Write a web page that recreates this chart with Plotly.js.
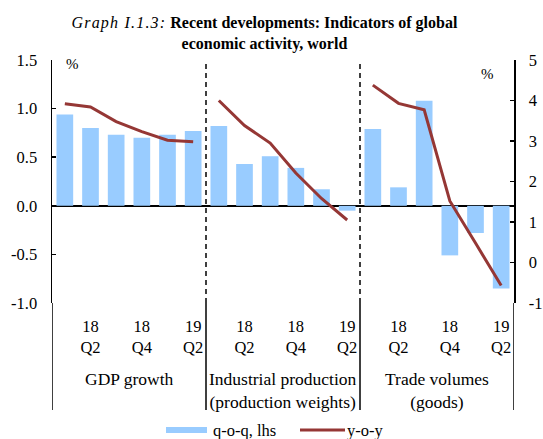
<!DOCTYPE html>
<html>
<head>
<meta charset="utf-8">
<script src="https://cdn.plot.ly/plotly-3.0.1.min.js"></script>
<style>html,body{margin:0;padding:0;background:#fff;}#chart{width:543px;height:439px;}</style>
</head>
<body>
<div id="chart"></div>
<script>
// Quarters within each group (2018Q1 .. 2019Q2)
const quarters = ['2018Q1', '2018Q2', '2018Q3', '2018Q4', '2019Q1', '2019Q2'];
const quarterTickText = ['', '18<br>Q2', '', '18<br>Q4', '', '19<br>Q2'];
const groupNames = ['GDP growth', 'Industrial production<br>(production weights)', 'Trade volumes<br>(goods)'];
const seriesNames = ['q-o-q, lhs', 'y-o-y'];

// axis tick values and labels
const leftTicks = [-1.0, -0.5, 0.0, 0.5, 1.0, 1.5];
const leftTickText = ['-1.0', '-0.5', '0.0', '0.5', '1.0', '1.5'];
const rightTicks = [-1, 0, 1, 2, 3, 4, 5];
const rightTickText = ['-1', '0', '1', '2', '3', '4', '5'];

// q-o-q, % (left axis)
const gdpQoq = [0.94, 0.80, 0.73, 0.70, 0.73, 0.77];
const ipQoq = [0.82, 0.43, 0.51, 0.39, 0.17, -0.05];
const tradeQoq = [0.79, 0.19, 1.08, -0.51, -0.28, -0.85];

// y-o-y, % (right axis)
const gdpYoy = [3.92, 3.84, 3.48, 3.23, 3.02, 2.98];
const ipYoy = [4.00, 3.38, 2.95, 2.21, 1.58, 1.05];
const tradeYoy = [4.38, 3.93, 3.77, 1.52, 0.48, -0.57];

const qoqSeries = [gdpQoq, ipQoq, tradeQoq];
const yoySeries = [gdpYoy, ipYoy, tradeYoy];

const nQ = quarters.length;
const FONT = 'Liberation Serif, Times New Roman, serif';
const BAR_COLOR = '#99CCFF';
const LINE_COLOR = '#953735';

// category positions: group g, quarter i -> g*nQ + i
const posOf = (g) => quarters.map((q, i) => g * nQ + i);

const traces = [];
traces.push({
  type: 'bar',
  name: seriesNames[0],
  x: qoqSeries.flatMap((s, g) => posOf(g)),
  y: qoqSeries.flat(),
  marker: {color: BAR_COLOR},
  width: 0.65,
  yaxis: 'y',
  hoverinfo: 'skip',
  showlegend: false
});
yoySeries.forEach((s, g) => {
  traces.push({
    type: 'scatter',
    mode: 'lines',
    name: seriesNames[1],
    x: posOf(g),
    y: s,
    yaxis: 'y2',
    line: {color: LINE_COLOR, width: 3},
    showlegend: false,
    hoverinfo: 'skip'
  });
});

const tickvals = [];
const ticktext = [];
groupNames.forEach((gname, g) => {
  quarterTickText.forEach((t, i) => {
    if (t) { tickvals.push(g * nQ + i); ticktext.push(t); }
  });
});

const nTot = groupNames.length * nQ;
const shapes = [];
// dashed separators inside plot
for (let g = 1; g < groupNames.length; g++) {
  shapes.push({type: 'line', xref: 'x', yref: 'paper', x0: g * nQ - 0.5, x1: g * nQ - 0.5, y0: 0, y1: 1,
    line: {color: '#000', width: 1.5, dash: '5px,4px'}});
}
// solid separators below plot
for (let g = 0; g <= groupNames.length; g++) {
  shapes.push({type: 'line', xref: 'x', yref: 'paper', x0: g * nQ - 0.5, x1: g * nQ - 0.5, y0: -0.44, y1: 0,
    line: {color: '#000', width: 1.5}});
}
// custom legend swatches (paper coordinates; plot area 52..514 x, 60..303 y)
const px = (xPix) => (xPix - 52) / 462;
const py = (yPix) => (303 - yPix) / 243;
shapes.push({type: 'rect', xref: 'paper', yref: 'paper', x0: px(166), x1: px(207), y0: py(433), y1: py(427),
  fillcolor: BAR_COLOR, line: {width: 0}});
shapes.push({type: 'line', xref: 'paper', yref: 'paper', x0: px(300), x1: px(345), y0: py(430), y1: py(430),
  line: {color: LINE_COLOR, width: 3}});

const annotations = [];
groupNames.forEach((gname, g) => {
  annotations.push({xref: 'x', yref: 'paper', x: g * nQ + (nQ - 1) / 2, y: py(367),
    yanchor: 'top', text: gname, showarrow: false, font: {family: FONT, size: 17.5, color: '#000'}});
});
annotations.push({xref: 'paper', yref: 'paper', x: px(64), y: py(54), xanchor: 'left', yanchor: 'top',
  text: '%', showarrow: false, font: {family: FONT, size: 15, color: '#000'}});
annotations.push({xref: 'paper', yref: 'paper', x: px(496), y: py(64), xanchor: 'right', yanchor: 'top',
  text: '%', showarrow: false, font: {family: FONT, size: 15, color: '#000'}});
annotations.push({xref: 'paper', yref: 'paper', x: px(211), y: py(430), xanchor: 'left', yanchor: 'middle',
  text: seriesNames[0], showarrow: false, font: {family: FONT, size: 16.5, color: '#000'}});
annotations.push({xref: 'paper', yref: 'paper', x: px(345), y: py(430), xanchor: 'left', yanchor: 'middle',
  text: seriesNames[1], showarrow: false, font: {family: FONT, size: 16.5, color: '#000'}});

const layout = {
  width: 543, height: 439,
  margin: {l: 52, r: 29, t: 60, b: 136},
  paper_bgcolor: '#fff', plot_bgcolor: '#fff',
  font: {family: FONT, size: 16, color: '#000'},
  title: {
    text: '<span style="letter-spacing:1.2px"><i>Graph I.1.3:</i></span> <b>Recent developments: Indicators of global<br>economic activity, world</b>',
    font: {family: FONT, size: 16, color: '#000'},
    x: 0.487, xref: 'container', xanchor: 'center',
    y: 0.936, yref: 'container', yanchor: 'middle'
  },
  bargap: 0.35,
  showlegend: false,
  xaxis: {
    range: [-0.5, nTot - 0.5],
    tickmode: 'array', tickvals: tickvals, ticktext: ticktext, tickangle: 0,
    ticks: '', showgrid: false, zeroline: false, showline: false,
    tickfont: {family: FONT, size: 16.5, color: '#000'},
    ticklabelstandoff: 11,
    automargin: false,
    fixedrange: true
  },
  yaxis: {
    range: [-1.0, 1.5], tickmode: 'array', tickvals: leftTicks, ticktext: leftTickText,
    showgrid: false, zeroline: true, zerolinecolor: '#000', zerolinewidth: 1.5,
    showline: true, linecolor: '#000', linewidth: 1.5,
    ticks: 'inside', ticklen: 4, tickcolor: '#000', tickwidth: 1.5,
    tickfont: {family: FONT, size: 16.5, color: '#000'},
    ticklabelstandoff: 10, automargin: false
  },
  yaxis2: {
    range: [-1, 5], tickmode: 'array', tickvals: rightTicks, ticktext: rightTickText,
    overlaying: 'y', side: 'right',
    showgrid: false, zeroline: false,
    showline: true, linecolor: '#000', linewidth: 1.5,
    ticks: 'inside', ticklen: 4, tickcolor: '#000', tickwidth: 1.5,
    tickfont: {family: FONT, size: 16.5, color: '#000'},
    ticklabelstandoff: 10, automargin: false
  },
  shapes: shapes,
  annotations: annotations
};

Plotly.newPlot('chart', traces, layout, {displayModeBar: false, staticPlot: true});
</script>
</body>
</html>
